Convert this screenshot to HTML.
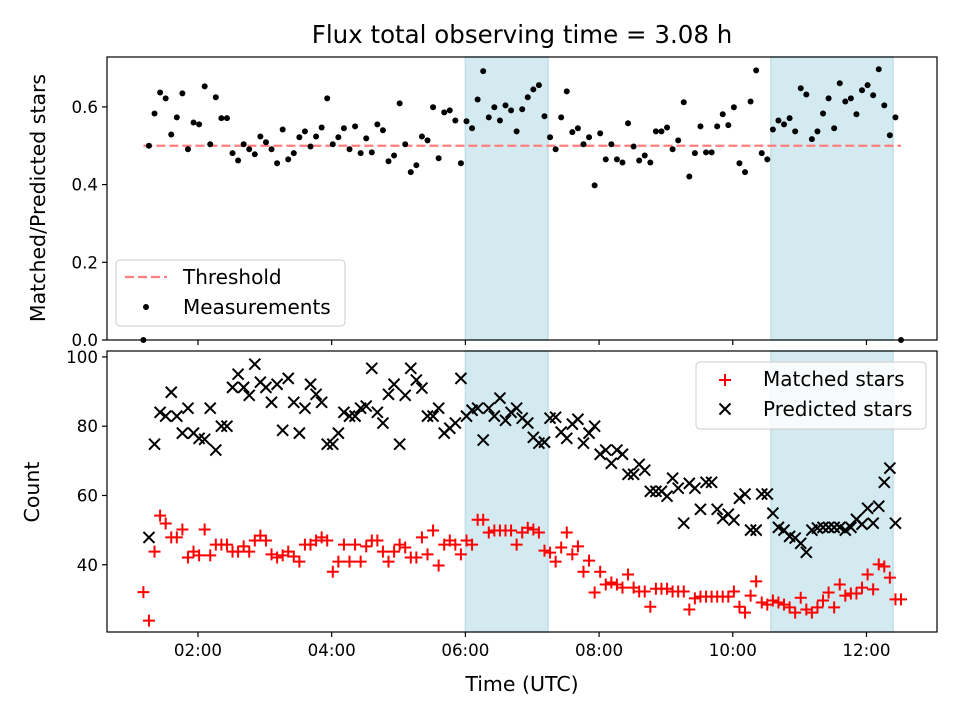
<!DOCTYPE html>
<html><head><meta charset="utf-8"><style>
html,body{margin:0;padding:0;background:#fff}
svg{display:block;font-family:"DejaVu Sans","Liberation Sans",sans-serif}
</style></head><body>
<svg id="fig" width="960" height="720" viewBox="0 0 960 720">
<rect width="960" height="720" fill="#fff"/>
<text x="522" y="43" font-size="24.5" text-anchor="middle" fill="#000">Flux total observing time = 3.08 h</text>
<g id="top"></g>
<g id="bot"></g>
<text x="522" y="691" font-size="20.5" text-anchor="middle">Time (UTC)</text>
<text transform="translate(45,198) rotate(-90)" font-size="20.5" text-anchor="middle">Matched/Predicted stars</text>
<text transform="translate(39,492) rotate(-90)" font-size="20.5" text-anchor="middle">Count</text>
</svg>
<script>
const timesMin = [71,76,81,86,91,96,101,106,111,116,121,126,131,136,141,146,151,156,161,166,171,176,181,186,191,196,201,206,211,216,221,226,231,236,241,246,251,256,261,266,271,276,281,286,291,296,301,306,311,316,321,326,331,336,341,346,351,356,361,366,371,376,381,386,391,396,401,406,411,416,421,426,431,436,441,446,451,456,461,466,471,476,481,486,491,496,501,506,511,516,521,526,531,536,541,546,551,556,561,566,571,576,581,586,591,596,601,606,611,616,621,626,631,636,641,646,651,656,661,666,671,676,681,686,691,696,701,706,711,716,721,726,731,736,741,746,751];
const ratioValues = [0,
0.50,0.583,0.637,0.622,0.529,0.573,0.635,0.491,0.560,0.555,0.653,0.504,0.625,0.571,0.571,0.481,0.462,0.504,0.491,0.478,0.524,0.509,0.491,0.455,0.542,0.465,0.481,0.522,0.537,0.498,0.524,0.547,0.622,0.504,0.522,0.545,0.491,0.550,0.481,0.519,0.483,0.555,0.540,0.460,0.475,0.609,0.504,0.432,0.450,0.524,0.514,0.599,0.468,0.586,0.591,0.565,0.455,0.563,0.545,0.619,0.692,0.573,0.599,0.565,0.604,0.591,0.537,0.594,0.625,
0.645,0.656,0.576,0.522,0.491,0.573,0.640,0.535,0.545,0.504,0.522,0.398,0.532,0.465,0.504,0.465,0.457,0.558,0.498,0.462,0.475,0.457,0.537,0.537,0.547,0.491,0.514,0.612,0.421,0.481,0.550,0.483,0.483,0.550,0.581,0.553,0.599,0.455,0.432,0.614,0.694,0.481,0.465,0.542,0.565,0.555,0.571,0.537,0.648,0.632,0.517,0.537,0.583,0.622,0.545,0.661,0.614,0.622,0.581,0.643,0.656,0.630,0.697,0.604,0.527,0.573,
0];
const matchedValues = [32.1,23.9,43.8,54.2,51.9,47.9,47.9,50.2,42.1,43.8,42.7,50.2,42.7,45.8,45.8,45.8,43.8,43.8,45.3,43.8,47.0,48.4,47.0,43.0,42.1,42.7,43.8,42.4,40.9,45.8,45.8,47.0,47.9,47.0,38.0,40.9,45.8,40.9,45.8,40.9,45.3,47.0,47.0,43.8,40.9,43.8,45.8,45.0,42.1,42.1,47.9,43.0,49.9,39.8,45.8,47.0,45.8,43.0,47.0,45.8,53.0,53.0,49.3,49.9,49.9,49.9,49.9,45.8,49.3,
50.7,50.2,49.3,44.1,43.5,40.9,45.0,49.3,43.0,45.3,38.0,41.2,32.0,38.0,34.3,34.9,34.3,33.4,37.2,33.4,32.3,32.3,27.9,33.1,33.1,33.1,32.3,32.3,32.3,27.1,30.3,30.8,30.8,30.8,30.8,30.8,30.8,32.3,27.9,26.2,31.1,35.2,29.1,28.5,29.7,29.1,28.5,27.7,26.2,30.5,27.1,26.2,27.7,29.7,32.0,27.7,34.3,31.1,31.7,31.7,33.4,37.2,32.9,40.1,39.5,36.3,30.0,30.0];
const predictedValues = [null,47.9,74.8,84.0,82.9,89.8,82.9,78.0,85.2,78.0,76.5,76.2,85.2,73.1,80.0,80.0,91.2,95.0,91.2,88.9,97.9,92.7,91.2,86.9,92.1,78.8,93.8,86.9,78.0,85.2,92.1,89.2,86.9,74.8,74.8,78.0,84.0,82.9,82.9,85.2,85.8,96.7,84.0,80.9,89.2,92.1,74.8,88.9,96.7,93.3,91.0,82.9,82.9,85.2,78.0,79.4,80.9,93.8,82.9,84.6,85.2,76.0,85.2,82.9,88.1,81.7,84.0,85.2,82.3,
80.9,76.8,75.1,75.4,82.3,82.6,78.3,76.5,80.6,82.0,75.1,78.0,80.0,71.9,73.1,69.3,73.1,71.9,66.1,66.1,69.0,67.3,61.2,61.2,61.2,59.8,65.0,62.1,52.0,63.5,62.1,56.0,63.8,63.8,56.0,53.4,54.6,52.9,59.2,60.4,50.0,50.0,60.4,60.4,54.9,50.8,50.0,48.2,47.7,46.2,43.6,50.0,50.6,50.8,50.8,50.8,50.8,50.0,50.8,53.1,51.7,56.3,52.0,56.9,63.8,67.9,52.0,null];
const xTickHours = [2,4,6,8,10,12];
const xTickLabels = ["02:00","04:00","06:00","08:00","10:00","12:00"];
const topYTicks = [0.0,0.2,0.4,0.6];
const topYTickLabels = ["0.0","0.2","0.4","0.6"];
const botYTicks = [40,60,80,100];
const botYTickLabels = ["40","60","80","100"];
const shadeStarts = [6.0,10.571];
const shadeEnds = [7.236,12.397];
const threshold = 0.5;

const NS="http://www.w3.org/2000/svg";
const L=107,R=937, TT=57,TB=340, BT=351,BB=632;
const X0=0.639,X1=13.055;
function xs(h){return L+(h-X0)/(X1-X0)*(R-L);}
function ytop(v){return TB-(v-0)/(0.7285)*(TB-TT);}
function ybot(v){return BB-(v-20.6)/(101.7-20.6)*(BB-BT);}
function mk(tag,attrs,parent){const e=document.createElementNS(NS,tag);for(const k in attrs)e.setAttribute(k,attrs[k]);parent.appendChild(e);return e;}
const gT=document.getElementById('top'), gB=document.getElementById('bot');

function panel(g,T,B,yf,ticks,labels,showX){
  for(let i=0;i<shadeStarts.length;i++){
    const r=mk('rect',{x:xs(shadeStarts[i]),y:T,width:xs(shadeEnds[i])-xs(shadeStarts[i]),height:B-T,fill:'#d4eaf1',stroke:'#bfdfe9','stroke-width':1.5},g);
    
    
  }
  for(let i=0;i<ticks.length;i++){
    const y=yf(ticks[i]);
    const t=mk('line',{x1:L-5,x2:L,y1:y,y2:y,stroke:'#000','stroke-width':1.2},g);
    
    
    const tx=mk('text',{x:L-9,y:y+6,'font-size':16.7,'text-anchor':'end'},g);
    tx.textContent=labels[i];
    
    
  }
  for(let i=0;i<xTickHours.length;i++){
    const x=xs(xTickHours[i]);
    const t=mk('line',{x1:x,x2:x,y1:B,y2:B+5,stroke:'#000','stroke-width':1.2},g);
    
    
    if(showX){
      const tx=mk('text',{x:x,y:B+24,'font-size':16.7,'text-anchor':'middle'},g);
      tx.textContent=xTickLabels[i];
      
      
    }
  }
}
panel(gT,TT,TB,ytop,topYTicks,topYTickLabels,false);
panel(gB,BT,BB,ybot,botYTicks,botYTickLabels,true);

const th=mk('line',{x1:xs(timesMin[0]/60),x2:xs(timesMin[timesMin.length-1]/60),y1:ytop(threshold),y2:ytop(threshold),stroke:'#ff7f7f','stroke-width':2.2,'stroke-dasharray':'9,4'},gT);



for(let i=0;i<timesMin.length;i++){
  const c=mk('circle',{cx:xs(timesMin[i]/60),cy:ytop(ratioValues[i]),r:3,fill:'#000'},gT);
  
  
}
function plus(g,x,y,s,col){return mk('path',{d:`M${x-s} ${y}H${x+s}M${x} ${y-s}V${y+s}`,stroke:col,'stroke-width':2,fill:'none'},g);}
function cross(g,x,y,s,col){return mk('path',{d:`M${x-s} ${y-s}L${x+s} ${y+s}M${x-s} ${y+s}L${x+s} ${y-s}`,stroke:col,'stroke-width':2,fill:'none'},g);}
for(let i=0;i<timesMin.length;i++){
  if(matchedValues[i]==null) continue;
  const p=plus(gB,xs(timesMin[i]/60),ybot(matchedValues[i]),6,'#ff0000');
  
  
}
for(let i=0;i<timesMin.length;i++){
  if(predictedValues[i]==null) continue;
  const p=cross(gB,xs(timesMin[i]/60),ybot(predictedValues[i]),5.5,'#000');
  
  
}
const f1=mk('rect',{x:L,y:TT,width:R-L,height:TB-TT,fill:'none',stroke:'#000','stroke-width':1.2},gT);


const f2=mk('rect',{x:L,y:BT,width:R-L,height:BB-BT,fill:'none',stroke:'#000','stroke-width':1.2},gB);



const lg1=mk('g',{},gT);


mk('rect',{x:116,y:260,width:229,height:66,rx:4,fill:'#fff','fill-opacity':0.8,stroke:'#ccc','stroke-width':1},lg1);
mk('line',{x1:125,x2:167,y1:277,y2:277,stroke:'#ff7f7f','stroke-width':2.2,'stroke-dasharray':'9,4'},lg1);
mk('circle',{cx:146,cy:307,r:3,fill:'#000'},lg1);
let t1=mk('text',{x:183,y:284,'font-size':20},lg1);t1.textContent='Threshold';


let t2=mk('text',{x:183,y:314,'font-size':20},lg1);t2.textContent='Measurements';



const lg2=mk('g',{},gB);


mk('rect',{x:696,y:362,width:230,height:67,rx:4,fill:'#fff','fill-opacity':0.8,stroke:'#ccc','stroke-width':1},lg2);
plus(lg2,725,380,6,'#ff0000');
cross(lg2,725,409,5.5,'#000');
let t3=mk('text',{x:763,y:386,'font-size':20},lg2);t3.textContent='Matched stars';


let t4=mk('text',{x:763,y:416,'font-size':20},lg2);t4.textContent='Predicted stars';


</script>
</body></html>
